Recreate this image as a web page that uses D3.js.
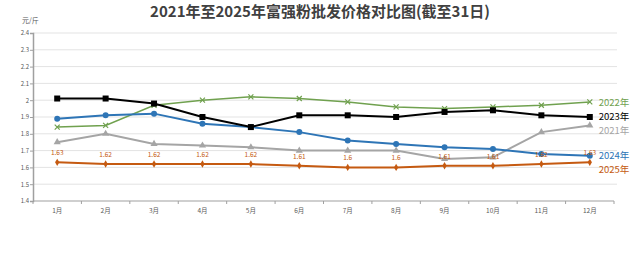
<!DOCTYPE html>
<meta charset="utf-8">
<html>
<script src="https://d3js.org/d3.v7.min.js"></script>
<style>
  body { margin: 0; background: #fff; }
  text { font-family: "Noto Sans CJK SC", "Noto Sans", sans-serif; }
</style>
<div id="chart"></div>
<script>

// data
var months = ["1月","2月","3月","4月","5月","6月","7月","8月","9月","10月","11月","12月"];
var y2022 = [1.84, 1.85, 1.97, 2.00, 2.02, 2.01, 1.99, 1.96, 1.95, 1.96, 1.97, 1.99];
var y2023 = [2.01, 2.01, 1.98, 1.90, 1.84, 1.91, 1.91, 1.90, 1.93, 1.94, 1.91, 1.90];
var y2021 = [1.75, 1.80, 1.74, 1.73, 1.72, 1.70, 1.70, 1.70, 1.65, 1.66, 1.81, 1.85];
var y2024 = [1.89, 1.91, 1.92, 1.86, 1.84, 1.81, 1.76, 1.74, 1.72, 1.71, 1.68, 1.67];
var y2025 = [1.63, 1.62, 1.62, 1.62, 1.62, 1.61, 1.60, 1.60, 1.61, 1.61, 1.62, 1.63];
var yTicks = [1.4, 1.5, 1.6, 1.7, 1.8, 1.9, 2, 2.1, 2.2, 2.3, 2.4];

var width = 640, height = 266;
var margin = {top: 33, right: 26, bottom: 65, left: 33};

var svg = d3.select("#chart").append("svg")
    .attr("width", width)
    .attr("height", height);

var x = d3.scaleBand().domain(months).range([margin.left, width - margin.right]);
var y = d3.scaleLinear().domain([1.4, 2.4]).range([height - margin.bottom, margin.top]);

// title
svg.append("text")
    .attr("x", 320).attr("y", 17)
    .attr("text-anchor", "middle")
    .style("font-size", "15px")
    .style("font-weight", "bold")
    .attr("fill", "#404040")
    .text("2021年至2025年富强粉批发价格对比图(截至31日)");

svg.append("text")
    .attr("x", 22).attr("y", 23)
    .style("font-size", "7px")
    .attr("fill", "#595959")
    .text("元/斤");

// gridlines
svg.append("g").selectAll("line")
    .data(yTicks.slice(1))
    .enter().append("line")
    .attr("x1", margin.left).attr("x2", width - margin.right + 3)
    .attr("y1", function(d) { return y(d); })
    .attr("y2", function(d) { return y(d); })
    .attr("stroke", "#e3e3e3")
    .attr("stroke-width", 1);

// y axis
var yAxis = svg.append("g")
    .attr("transform", "translate(" + margin.left + ",0)")
    .call(d3.axisLeft(y).tickValues(yTicks).tickSize(3).tickFormat(d3.format("~g")));
yAxis.selectAll("text").style("font-size", "6px").attr("fill", "#595959").attr("x", -4);
yAxis.selectAll("line").attr("stroke", "#a0a0a0");
yAxis.select(".domain").attr("stroke", "#a0a0a0").attr("stroke-width", 1.5);

// x axis, ticks on band edges
var xAxisY = y(1.4);
svg.append("line")
    .attr("x1", margin.left).attr("x2", width - margin.right)
    .attr("y1", xAxisY).attr("y2", xAxisY)
    .attr("stroke", "#a0a0a0").attr("stroke-width", 1.2);
var edges = months.map(function(m) { return x(m); }).concat([x(months[11]) + x.bandwidth()]);
svg.append("g").selectAll("line")
    .data(edges)
    .enter().append("line")
    .attr("x1", function(d) { return d; }).attr("x2", function(d) { return d; })
    .attr("y1", xAxisY).attr("y2", xAxisY + 3)
    .attr("stroke", "#a0a0a0");
svg.append("g").selectAll("text")
    .data(months)
    .enter().append("text")
    .attr("x", function(d) { return x(d) + x.bandwidth() / 2; })
    .attr("y", xAxisY + 12)
    .attr("text-anchor", "middle")
    .style("font-size", "6.5px")
    .attr("fill", "#595959")
    .text(function(d) { return d; });

var series = [
  {name: "2022年", values: y2022, color: "#70a14f", marker: "cross", ly: 102},
  {name: "2021年", values: y2021, color: "#a5a5a5", marker: "triangle", ly: 130},
  {name: "2024年", values: y2024, color: "#2e75b6", marker: "circle", ly: 155},
  {name: "2023年", values: y2023, color: "#000000", marker: "square", ly: 116},
  {name: "2025年", values: y2025, color: "#c55a11", marker: "diamond", ly: 169}
];

var cx = function(i) { return x(months[i]) + x.bandwidth() / 2; };
var line = d3.line()
    .x(function(d, i) { return cx(i); })
    .y(function(d) { return y(d); });

series.forEach(function(s) {
  var g = svg.append("g");
  g.append("path")
      .datum(s.values)
      .attr("d", line)
      .attr("fill", "none")
      .attr("stroke", s.color)
      .attr("stroke-width", s.marker == "cross" ? 1.5 : 2);

  var pts = g.selectAll(".pt").data(s.values).enter();
  if (s.marker == "circle") {
    pts.append("circle")
      .attr("cx", function(d, i) { return cx(i); })
      .attr("cy", function(d) { return y(d); })
      .attr("r", 3).attr("fill", s.color);
  } else if (s.marker == "square") {
    pts.append("rect")
      .attr("x", function(d, i) { return cx(i) - 3; })
      .attr("y", function(d) { return y(d) - 3; })
      .attr("width", 6).attr("height", 6).attr("fill", s.color);
  } else if (s.marker == "triangle") {
    pts.append("path")
      .attr("transform", function(d, i) { return "translate(" + cx(i) + "," + y(d) + ")"; })
      .attr("d", d3.symbol().type(d3.symbolTriangle).size(22))
      .attr("fill", s.color);
  } else if (s.marker == "diamond") {
    pts.append("path")
      .attr("transform", function(d, i) { return "translate(" + cx(i) + "," + y(d) + ")"; })
      .attr("d", d3.symbol().type(d3.symbolDiamond).size(16))
      .attr("fill", s.color);
  } else {
    pts.append("path")
      .attr("transform", function(d, i) { return "translate(" + cx(i) + "," + y(d) + ")"; })
      .attr("d", "M-2.5,-2.5L2.5,2.5M-2.5,2.5L2.5,-2.5")
      .attr("stroke", s.color).attr("stroke-width", 1.2);
  }

  g.append("text")
      .attr("x", cx(11) + 9)
      .attr("y", s.ly + 3.5)
      .style("font-size", "9.5px")
      .attr("fill", s.color)
      .text(s.name);
});

// value labels for 2025
svg.append("g").selectAll("text")
    .data(y2025)
    .enter().append("text")
    .attr("x", function(d, i) { return cx(i); })
    .attr("y", function(d) { return y(d) - 7; })
    .attr("text-anchor", "middle")
    .style("font-size", "6.5px")
    .attr("fill", "#c55a11")
    .text(function(d) { return d3.format("~g")(d); });

</script>
</html>
